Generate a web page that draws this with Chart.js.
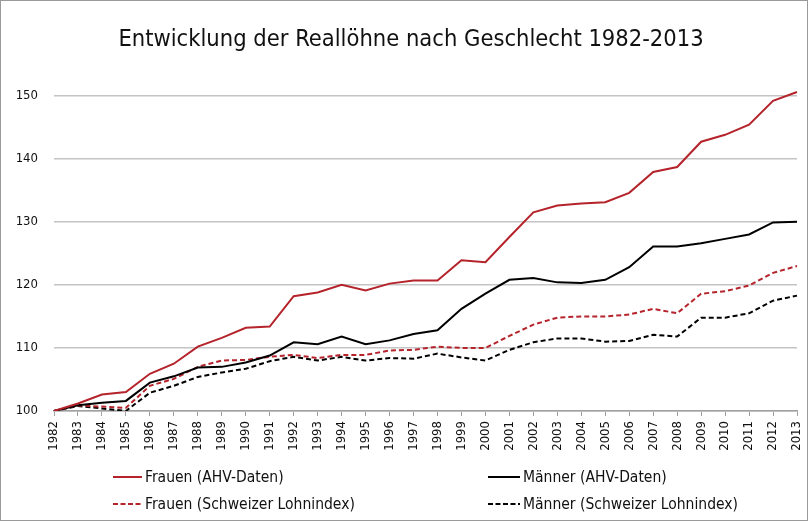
<!DOCTYPE html>
<html>
<head>
<meta charset="utf-8">
<script src="https://cdn.jsdelivr.net/npm/chart.js@4/dist/chart.umd.min.js"></script>
<style>
  html, body { margin:0; padding:0; background:#fff; }
  #wrap { position:relative; width:808px; height:521px; box-sizing:border-box; border:1px solid #9a9a9a; overflow:hidden; }
  canvas { position:absolute; left:-1px; top:-1px; }
  .leg { position:absolute; font-family:"Liberation Sans Narrow","DejaVu Sans Condensed","Liberation Sans",sans-serif; font-size:15.5px; color:#111; display:flex; align-items:center; white-space:nowrap; height:20px; }
  .leg svg { margin-right:3px; }
</style>
</head>
<body>
<div id="wrap">
<canvas id="c" width="808" height="521"></canvas>
<div class="leg" style="left:112px; top:466px;"><svg width="29" height="4"><line x1="0" y1="2" x2="29" y2="2" stroke="#b5232b" stroke-width="2"/></svg>Frauen (AHV-Daten)</div>
<div class="leg" style="left:487px; top:466px;"><svg width="32" height="4"><line x1="0" y1="2" x2="32" y2="2" stroke="#000" stroke-width="2"/></svg>Männer (AHV-Daten)</div>
<div class="leg" style="left:112px; top:493px;"><svg width="29" height="4"><line x1="0" y1="2" x2="29" y2="2" stroke="#b5232b" stroke-width="2" stroke-dasharray="5,2.5"/></svg>Frauen (Schweizer Lohnindex)</div>
<div class="leg" style="left:487px; top:493px;"><svg width="32" height="4"><line x1="0" y1="2" x2="32" y2="2" stroke="#000" stroke-width="2" stroke-dasharray="5,2.5"/></svg>Männer (Schweizer Lohnindex)</div>
</div>
<script>
const years = ["1982","1983","1984","1985","1986","1987","1988","1989","1990","1991","1992","1993","1994","1995","1996","1997","1998","1999","2000","2001","2002","2003","2004","2005","2006","2007","2008","2009","2010","2011","2012","2013"];
const frauenAHV = [100,101.2,102.6,103.0,105.9,107.5,110.2,111.6,113.2,113.4,118.2,118.8,120.0,119.1,120.2,120.7,120.7,123.9,123.6,127.6,131.5,132.6,132.9,133.1,134.6,137.9,138.7,142.7,143.8,145.4,149.2,150.6];
const maennerAHV = [100,100.9,101.3,101.6,104.5,105.5,106.9,107.0,107.7,108.8,110.9,110.6,111.8,110.6,111.2,112.2,112.8,116.2,118.6,120.8,121.1,120.4,120.3,120.8,122.8,126.1,126.1,126.6,127.3,128.0,129.9,130.0];
const frauenLI = [100,100.9,100.7,100.5,104.0,105.1,107.0,108.0,108.1,108.6,108.9,108.4,108.9,108.9,109.6,109.7,110.2,110.0,110.0,111.9,113.7,114.8,115.0,115.0,115.3,116.2,115.5,118.6,119.0,119.9,121.9,123.0];
const maennerLI = [100,100.8,100.4,100.0,102.9,104.0,105.4,106.1,106.7,107.9,108.6,108.0,108.6,108.0,108.4,108.3,109.1,108.5,108.0,109.7,110.9,111.5,111.5,111.0,111.1,112.1,111.8,114.8,114.8,115.5,117.5,118.3];
const yTicks = [100,110,120,130,140,150];

const RED = "#b5232b";
const FONT = "'Liberation Sans Narrow','DejaVu Sans Condensed','Liberation Sans',sans-serif";
const TICKFONT = "'DejaVu Sans Condensed','Liberation Sans Narrow',sans-serif";

function ds(label, data, color, dashed) {
  return { label, data, borderColor: color, backgroundColor: color, borderWidth: 2,
           borderDash: dashed ? [5,3] : [], pointRadius: 0, tension: 0, fill: false };
}

new Chart(document.getElementById('c'), {
  type: 'line',
  data: {
    labels: years,
    datasets: [
      ds('Frauen (AHV-Daten)', frauenAHV, RED, false),
      ds('Männer (AHV-Daten)', maennerAHV, '#000', false),
      ds('Frauen (Schweizer Lohnindex)', frauenLI, RED, true),
      ds('Männer (Schweizer Lohnindex)', maennerLI, '#000', true)
    ]
  },
  options: {
    responsive: false,
    animation: false,
    layout: { padding: { left: 15, right: 1, top: 0, bottom: 50 } },
    plugins: {
      legend: { display: false },
      tooltip: { enabled: false },
      title: {
        display: true,
        text: 'Entwicklung der Reallöhne nach Geschlecht 1982-2013',
        color: '#111',
        font: { family: FONT, size: 23.5, weight: 'normal' },
        padding: { top: 26, bottom: 10 }
      }
    },
    scales: {
      x: {
        offset: false,
        grid: { display: true, drawOnChartArea: false, drawTicks: true, tickLength: 5, color: '#a0a0a0', lineWidth: 1 },
        border: { display: true, color: '#a0a0a0', width: 1.5 },
        ticks: { minRotation: 90, maxRotation: 90, autoSkip: false, color: '#111', padding: 5,
                 font: { family: TICKFONT, size: 13 } },
        afterFit: s => { s.height = 60; s.paddingLeft = 0; s.paddingRight = 11; }
      },
      y: {
        min: 100, max: 155,
        afterBuildTicks: s => { s.ticks = yTicks.map(v => ({ value: v })); },
        grid: { color: '#c4c4c4', lineWidth: 1.5, drawTicks: false },
        border: { display: false },
        ticks: { color: '#111', padding: 16, font: { family: TICKFONT, size: 13 } },
        afterFit: s => { s.width = 39; s.paddingTop = 0; s.paddingBottom = 0; }
      }
    }
  }
});
</script>
</body>
</html>
